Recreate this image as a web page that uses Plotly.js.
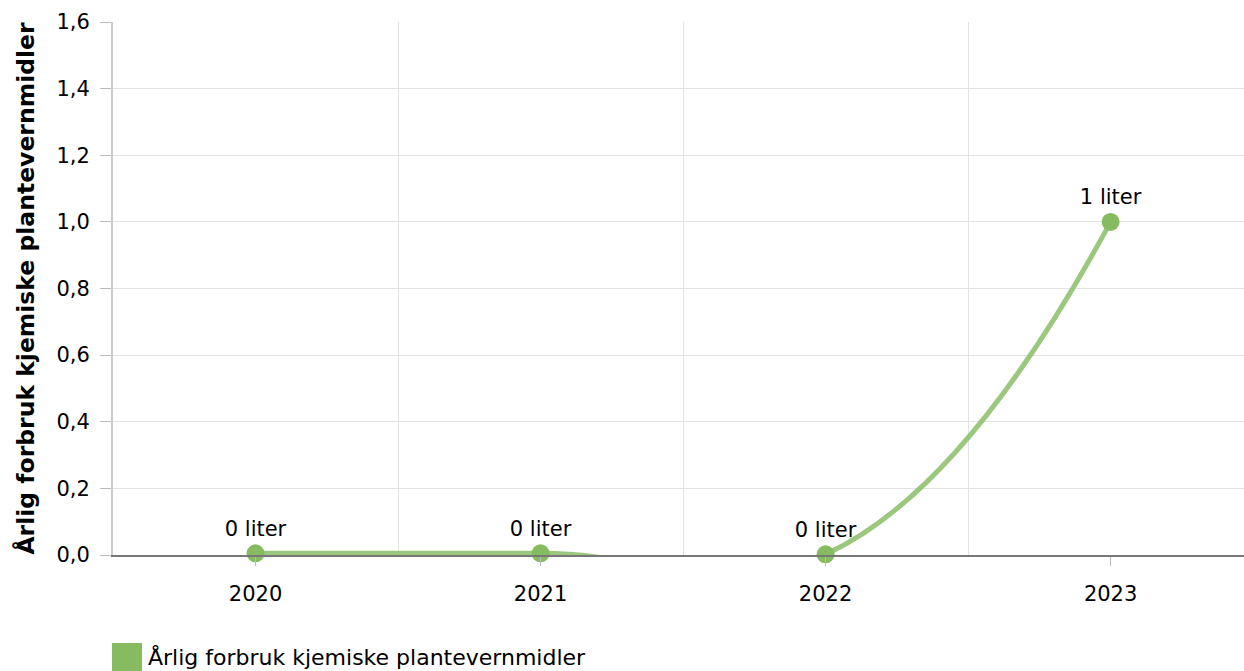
<!DOCTYPE html>
<html>
<head>
<meta charset="utf-8">
<script src="https://cdn.plot.ly/plotly-3.0.1.min.js"></script>
<style>html,body{margin:0;padding:0;background:#fff;}#chart{width:1244px;height:671px;}</style>
</head>
<body>
<div id="chart"></div>
<script>
const years = ['2020', '2021', '2022', '2023'];
const values = [0.005, 0.005, 0.002, 1];
const labels = ['0 liter', '0 liter', '0 liter', '1 liter'];
const yTicks = [0, 0.2, 0.4, 0.6, 0.8, 1.0, 1.2, 1.4, 1.6];
const seriesName = 'Årlig forbruk kjemiske plantevernmidler';
const boundaries = [-0.5, 0.5, 1.5, 2.5, 3.5];

const FONT = 'DejaVu Sans, Verdana, sans-serif';
const GREEN = '#86bb62';

const traces = [
  {
    x: years, y: values, type: 'scatter', mode: 'lines+markers+text',
    name: seriesName,
    line: {shape: 'spline', smoothing: 1.3, width: 5, color: 'rgba(134,187,98,0.82)'},
    marker: {size: 18, color: GREEN},
    text: labels, textposition: 'top center',
    textfont: {family: FONT, size: 21, color: '#000'},
    cliponaxis: false, showlegend: false, hoverinfo: 'x+y'
  }
];

const layout = {
  width: 1244, height: 671,
  margin: {l: 113, r: 0, t: 22, b: 116},
  paper_bgcolor: '#fff', plot_bgcolor: '#fff',
  separators: ', ',
  font: {family: FONT, size: 21, color: '#000'},
  showlegend: false,
  xaxis: {
    type: 'category', range: [-0.5, 3.468], fixedrange: true,
    showgrid: false, zeroline: false,
    showline: true, linecolor: '#777', linewidth: 1.5,
    ticks: 'outside', ticklen: 9, tickcolor: '#bbb', tickwidth: 1,
    ticklabelstandoff: 10,
    tickfont: {family: FONT, size: 21, color: '#000'}
  },
  xaxis2: {
    overlaying: 'x', type: 'linear', range: [-0.5, 3.468],
    tickvals: boundaries, showticklabels: false, ticks: '',
    showgrid: true, gridcolor: '#e3e3e3', gridwidth: 1, zeroline: false
  },
  yaxis: {
    range: [0, 1.6], tickvals: yTicks, tickformat: '.1f',
    showgrid: true, gridcolor: '#e3e3e3', gridwidth: 1, zeroline: false,
    showline: true, linecolor: '#ccc', linewidth: 2,
    ticks: 'outside', ticklen: 11, tickcolor: '#bbb', tickwidth: 1,
    ticklabelstandoff: 6,
    tickfont: {family: FONT, size: 21, color: '#000'},
    title: {text: '<b>' + seriesName + '</b>', font: {family: FONT, size: 23.5, color: '#000'}, standoff: 15}
  },
  shapes: [
    {type: 'rect', xref: 'paper', yref: 'paper', xsizemode: 'pixel', ysizemode: 'pixel',
     xanchor: 0, yanchor: 0, x0: -1, x1: 29, y0: -88, y1: -116, line: {width: 0}, fillcolor: GREEN}
  ],
  annotations: [
    {xref: 'paper', yref: 'paper', x: 0, y: 0, xshift: 33, yshift: -102,
     xanchor: 'left', yanchor: 'middle', showarrow: false, text: seriesName,
     font: {family: FONT, size: 22, color: '#000'}}
  ]
};

// dummy trace to activate xaxis2 gridlines
traces.push({x: [0], y: [null], xaxis: 'x2', yaxis: 'y', type: 'scatter', mode: 'lines', showlegend: false, hoverinfo: 'skip'});

Plotly.newPlot('chart', traces, layout, {displayModeBar: false, staticPlot: true});
</script>
</body>
</html>
